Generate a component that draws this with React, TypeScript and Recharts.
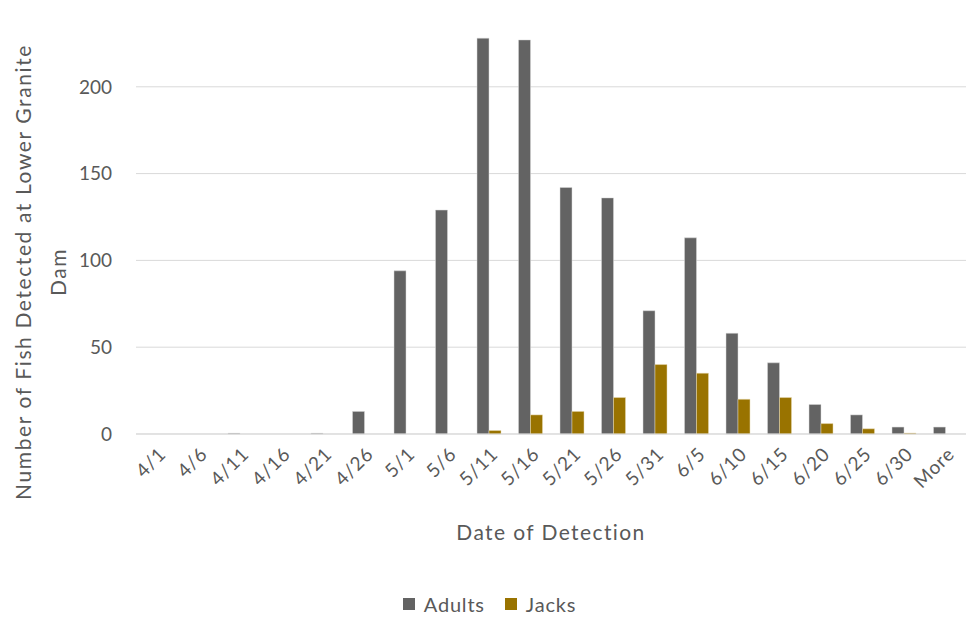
import React from "react";
import { BarChart, Bar, XAxis, YAxis, CartesianGrid } from "recharts";

const dates = ["4/1", "4/6", "4/11", "4/16", "4/21", "4/26", "5/1", "5/6", "5/11", "5/16", "5/21", "5/26", "5/31", "6/5", "6/10", "6/15", "6/20", "6/25", "6/30", "More"];
const adults = [0, 0, 0.4, 0, 0.4, 13, 94, 129, 228, 227, 142, 136, 71, 113, 58, 41, 17, 11, 4, 4];
const jacks = [0, 0, 0, 0, 0, 0, 0, 0, 2, 11, 13, 21, 40, 35, 20, 21, 6, 3, 0.5, 0];
const yTicks = [0, 50, 100, 150, 200];

const data = dates.map((d, i) => ({ date: d, Adults: adults[i], Jacks: jacks[i] }));

const FONT = "Lato, 'Open Sans', sans-serif";
const TEXT = "#595959";
const ADULT = "#636363";
const JACK = "#997300";

function DateTick({ x, y, payload }: any) {
  return (
    <text
      x={x + 5}
      y={y + 8}
      transform={`rotate(-45, ${x + 5}, ${y + 8})`}
      textAnchor="end"
      dominantBaseline="central"
      fill={TEXT}
      fontSize={19}
      letterSpacing={0.8}
      fontFamily={FONT}
    >
      {payload.value}
    </text>
  );
}

function YTitle({ viewBox }: any) {
  const cy = viewBox.y + viewBox.height / 2 + 55;
  return (
    <g fill={TEXT} fontSize={21} fontFamily={FONT} letterSpacing={1.6}>
      <text x={22} y={cy} transform={`rotate(-90, 22, ${cy})`} textAnchor="middle" dominantBaseline="central">
        Number of Fish Detected at Lower Granite
      </text>
      <text x={57} y={cy} transform={`rotate(-90, 57, ${cy})`} textAnchor="middle" dominantBaseline="central">
        Dam
      </text>
    </g>
  );
}

function LegendBox() {
  const item = (color: string, label: string) => (
    <span style={{ display: "inline-flex", alignItems: "center", margin: "0 10px" }}>
      <span style={{ width: 12, height: 12, background: color, display: "inline-block", marginRight: 9 }} />
      {label}
    </span>
  );
  return (
    <div
      style={{
        position: "absolute",
        left: 0,
        top: 590,
        width: 979,
        textAlign: "center",
        fontFamily: FONT,
        fontSize: 20,
        letterSpacing: 0.8,
        color: TEXT,
      }}
    >
      {item(ADULT, "Adults")}
      {item(JACK, "Jacks")}
    </div>
  );
}

export default function App() {
  return (
    <div style={{ position: "absolute", left: 0, top: 0, width: 979, height: 636, background: "#fff" }}>
      <BarChart
        width={979}
        height={636}
        data={data}
        margin={{ top: 0, right: 13, bottom: 122, left: 66 }}
        barGap={0}
        barSize={12}
      >
        <CartesianGrid vertical={false} horizontalValues={yTicks} stroke="#d9d9d9" strokeWidth={1} />
        <XAxis
          dataKey="date"
          interval={0}
          height={80}
          tickLine={false}
          axisLine={{ stroke: "#d9d9d9" }}
          tick={<DateTick />}
          label={{ value: "Date of Detection", position: "insideBottom", offset: -26, fill: TEXT, fontSize: 21, letterSpacing: 1.4, fontFamily: FONT }}
        />
        <YAxis
          width={70}
          domain={[0, 250]}
          ticks={yTicks}
          tickLine={false}
          axisLine={false}
          tick={{ fill: TEXT, fontSize: 19, fontFamily: FONT }}
          tickMargin={18}
          label={<YTitle />}
        />
        <Bar dataKey="Adults" fill={ADULT} stroke="#d9d9d9" strokeWidth={0.5} isAnimationActive={false} />
        <Bar dataKey="Jacks" fill={JACK} stroke="#e6d9b0" strokeWidth={0.5} isAnimationActive={false} />
      </BarChart>
      <LegendBox />
    </div>
  );
}
